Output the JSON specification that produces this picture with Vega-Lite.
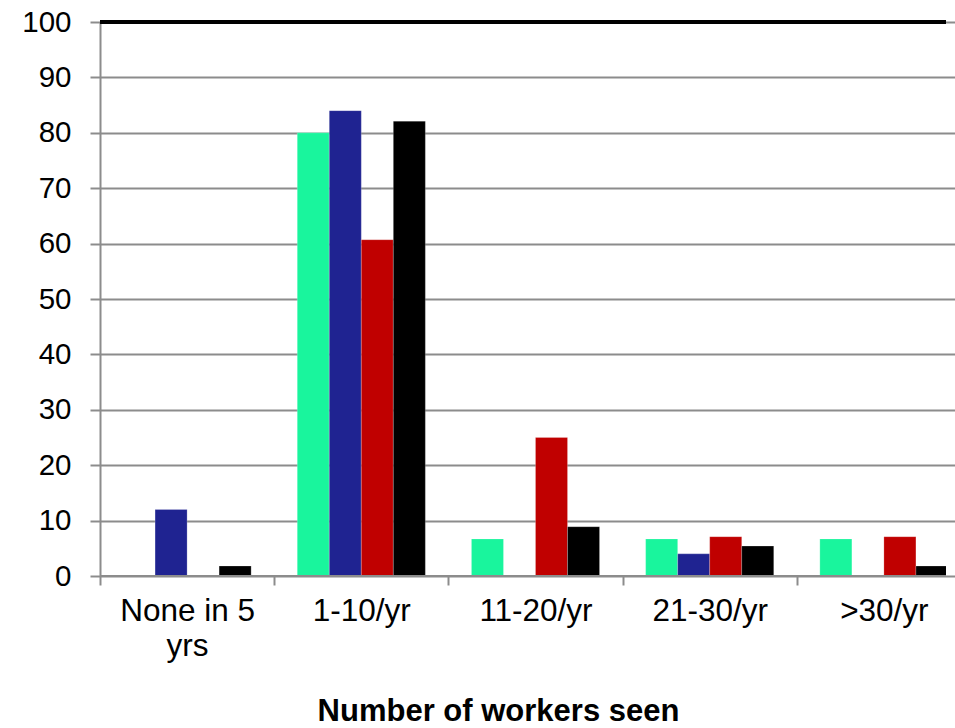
{
  "$schema": "https://vega.github.io/schema/vega-lite/v6.json",
  "autosize": "none",
  "width": 846,
  "height": 554,
  "padding": {"left": 100, "top": 22, "right": 9, "bottom": 152},
  "background": "white",
  "config": {
    "view": {"stroke": null},
    "font": "Liberation Sans",
    "axis": {"labelFont": "Liberation Sans", "titleFont": "Liberation Sans", "labelColor": "black", "titleColor": "black"}
  },
  "data": {
    "values": [
      {"category": "None in 5 yrs", "series": "Series 1", "value": 0},
      {"category": "None in 5 yrs", "series": "Series 2", "value": 12},
      {"category": "None in 5 yrs", "series": "Series 3", "value": 0},
      {"category": "None in 5 yrs", "series": "Series 4", "value": 1.8},
      {"category": "1-10/yr", "series": "Series 1", "value": 80},
      {"category": "1-10/yr", "series": "Series 2", "value": 84},
      {"category": "1-10/yr", "series": "Series 3", "value": 60.7},
      {"category": "1-10/yr", "series": "Series 4", "value": 82.1},
      {"category": "11-20/yr", "series": "Series 1", "value": 6.7},
      {"category": "11-20/yr", "series": "Series 2", "value": 0},
      {"category": "11-20/yr", "series": "Series 3", "value": 25},
      {"category": "11-20/yr", "series": "Series 4", "value": 8.9},
      {"category": "21-30/yr", "series": "Series 1", "value": 6.7},
      {"category": "21-30/yr", "series": "Series 2", "value": 4},
      {"category": "21-30/yr", "series": "Series 3", "value": 7.1},
      {"category": "21-30/yr", "series": "Series 4", "value": 5.4},
      {"category": ">30/yr", "series": "Series 1", "value": 6.7},
      {"category": ">30/yr", "series": "Series 2", "value": 0},
      {"category": ">30/yr", "series": "Series 3", "value": 7.1},
      {"category": ">30/yr", "series": "Series 4", "value": 1.8}
    ]
  },
  "layer": [
    {
      "mark": {"type": "bar", "clip": true, "stroke": "white", "strokeOpacity": 0.35, "strokeWidth": 0.6},
      "encoding": {
        "x": {
          "field": "category",
          "type": "nominal",
          "sort": ["None in 5 yrs", "1-10/yr", "11-20/yr", "21-30/yr", ">30/yr"],
          "scale": {"range": [0, 871], "paddingInner": 0, "paddingOuter": 0},
          "axis": {
            "title": "Number of workers seen",
            "titleFontSize": 31,
            "titleFontWeight": "bold",
            "titleX": 398,
            "titleY": 144,
            "titleAlign": "center",
            "titleBaseline": "alphabetic",
            "labelAngle": 0,
            "labelFontSize": 31.5,
            "labelPadding": 10,
            "labelLineHeight": 35,
            "labelExpr": "datum.value == 'None in 5 yrs' ? ['None in 5', 'yrs'] : datum.value",
            "tickBand": "extent",
            "tickSize": 9,
            "tickColor": "#8c8c8c",
            "tickWidth": 2,
            "domain": false,
            "grid": false
          }
        },
        "xOffset": {
          "field": "series",
          "type": "nominal",
          "scale": {"paddingInner": 0, "paddingOuter": 0.72}
        },
        "y": {
          "field": "value",
          "type": "quantitative",
          "scale": {"domain": [0, 100], "nice": false},
          "axis": {
            "title": null,
            "values": [0, 10, 20, 30, 40, 50, 60, 70, 80, 90, 100],
            "labelFontSize": 29.5,
            "labelPadding": 19,
            "tickSize": 10,
            "tickColor": "#8c8c8c",
            "tickWidth": 2,
            "domainColor": "#8c8c8c",
            "domainWidth": 2,
            "gridColor": "#8c8c8c",
            "gridWidth": 2,
            "gridOpacity": 1
          }
        },
        "color": {
          "field": "series",
          "type": "nominal",
          "scale": {"domain": ["Series 1", "Series 2", "Series 3", "Series 4"], "range": ["#19F59D", "#1F2391", "#C00000", "#000000"]},
          "legend": null
        }
      }
    },
    {
      "mark": {"type": "rule", "color": "#000000", "strokeWidth": 2.5},
      "encoding": {"y": {"datum": 100}}
    },
    {
      "mark": {"type": "rule", "color": "#8c8c8c", "strokeWidth": 2},
      "encoding": {"y": {"datum": 0}}
    }
  ]
}
